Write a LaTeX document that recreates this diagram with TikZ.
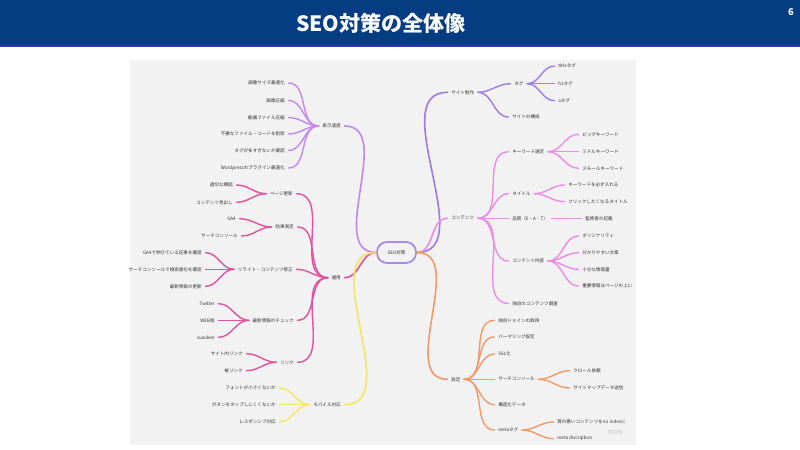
\documentclass[tikz,border=0pt]{standalone}
\usepackage{fontspec}
\setmainfont{Noto Sans CJK JP}
\usetikzlibrary{positioning}

\definecolor{bandblue}{HTML}{053C82}
\definecolor{bandline}{HTML}{2A34B8}
\definecolor{canvas}{HTML}{F2F2F2}
\definecolor{sitecol}{HTML}{A07CE2}
\definecolor{speedcol}{HTML}{C687F0}
\definecolor{contcol}{HTML}{EA8CE8}
\definecolor{opcol}{HTML}{E0529E}
\definecolor{mobcol}{HTML}{F6E462}
\definecolor{setcol}{HTML}{F19A6C}
\definecolor{rootcol}{HTML}{A68AE5}
\definecolor{txt}{HTML}{333333}

\begin{document}
\begin{tikzpicture}[x=0.3mm,y=-0.3mm,
	lbl/.style={inner xsep=3pt,inner ysep=1pt,text=txt,font=\fontsize{3.9}{4.5}\selectfont},
	lft/.style={lbl,anchor=east},
	rgt/.style={lbl,anchor=west},
	branch/.style={line width=1.2pt,line cap=round},
	toleft/.style={branch,out=180,in=0},
	toright/.style={branch,out=0,in=180}]
	\useasboundingbox (0,0) rectangle (800,450);

	% header
	\fill[bandblue] (0,0) rectangle (800,45);
	\fill[bandline] (0,45) rectangle (800,47);
	\node[text=white,font=\fontsize{18}{20}\selectfont\bfseries] (title)
		at (381,23) {SEO対策の全体像};
	\node[text=white,font=\fontsize{8}{9}\selectfont\bfseries] (page)
		at (791,12) {6};

	% board
	\fill[canvas] (130,60) rectangle (636,445);
	\node[text=gray!45,font=\fontsize{6}{7}\selectfont] (miro) at (615,432) {miro};

	\node[draw=rootcol,line width=1.5pt,rounded corners=3mm,minimum width=11.7mm,
		minimum height=6.3mm,inner sep=0pt,text=txt,font=\fontsize{3.9}{4.5}\selectfont] (root)
		at (396.5,252.5) {SEO対策};

	% left: display speed
	\node[lft] (speed) at (344.5,126) {表示速度};
	\node[lft] (sp1) at (288.5,83) {画像サイズ最適化};
	\node[lft] (sp2) at (288.5,100.5) {画像圧縮};
	\node[lft] (sp3) at (288.5,117.5) {動画ファイル圧縮};
	\node[lft] (sp4) at (288.5,134) {不要なファイル・コードを削除};
	\node[lft] (sp5) at (288.5,150.5) {タグが多すぎないか確認};
	\node[lft] (sp6) at (288.5,168) {Wordpressのプラグイン最適化};

	% left: operation
	\node[lft] (ops) at (344.5,277.7) {運用};
	\node[lft] (upd) at (296.5,193.7) {ページ更新};
	\node[lft] (upd1) at (236.5,185) {適切な構図};
	\node[lft] (upd2) at (236.5,202.3) {コンテンツ見出し};
	\node[lft] (meas) at (297.5,227) {効果測定};
	\node[lft] (meas1) at (239.5,218.7) {GA4};
	\node[lft] (meas2) at (241.5,236) {サーチコンソール};
	\node[lft] (rew) at (296.5,269.3) {リライト・コンテンツ修正};
	\node[lft] (rew1) at (205.5,252.7) {GA4で伸びている記事を確認};
	\node[lft] (rew2) at (205.5,269.3) {サーチコンソールで検索語句を確認};
	\node[lft] (rew3) at (205.5,286.3) {最新情報の更新};
	\node[lft] (news) at (297.5,320.3) {最新情報のチェック};
	\node[lft] (news1) at (218.5,303.7) {Twitter};
	\node[lft] (news2) at (218.5,320.3) {WEB版};
	\node[lft] (news3) at (218.5,337.3) {suzuken};
	\node[lft] (link) at (297.5,362.3) {リンク};
	\node[lft] (link1) at (246.5,353.7) {サイト内リンク};
	\node[lft] (link2) at (246.5,370.7) {被リンク};

	% left: mobile
	\node[lft] (mob) at (344.5,404.7) {モバイル対応};
	\node[lft] (mob1) at (279.5,388) {フォントが小さくないか};
	\node[lft] (mob2) at (279.5,404.7) {ボタンをタップしにくくないか};
	\node[lft] (mob3) at (279.5,421.7) {レスポンシブ対応};

	% right: site building
	\node[rgt] (site) at (447.5,92.3) {サイト制作};
	\node[rgt] (tag) at (510.5,83.7) {タグ};
	\node[rgt] (tag1) at (554.5,66) {titleタグ};
	\node[rgt] (tag2) at (554.5,83.7) {h1タグ};
	\node[rgt] (tag3) at (554.5,100.7) {aタグ};
	\node[rgt] (struct) at (508.5,117) {サイトの構成};

	% right: contents
	\node[rgt] (cont) at (447.5,218.3) {コンテンツ};
	\node[rgt] (kw) at (508.5,151.7) {キーワード選定};
	\node[rgt] (kw1) at (578.5,134.3) {ビッグキーワード};
	\node[rgt] (kw2) at (578.5,151.7) {ミドルキーワード};
	\node[rgt] (kw3) at (578.5,168.3) {スモールキーワード};
	\node[rgt] (ttl) at (508.5,193.7) {タイトル};
	\node[rgt] (ttl1) at (564.5,185) {キーワードを必ず入れる};
	\node[rgt] (ttl2) at (564.5,201.7) {クリックしたくなるタイトル};
	\node[rgt] (eat) at (508.5,218.3) {品質（E・A・T）};
	\node[rgt] (eat1) at (581.5,218.3) {監修者の記載};
	\node[rgt] (body) at (508.5,261) {コンテンツ内容};
	\node[rgt] (body1) at (578.5,236) {オリジナリティ};
	\node[rgt] (body2) at (578.5,252.7) {分かりやすい文章};
	\node[rgt] (body3) at (578.5,269.3) {十分な情報量};
	\node[rgt] (body4) at (578.5,286) {重要情報はページの上に};
	\node[rgt] (orig) at (508.5,303.3) {独自のコンテンツ調査};

	% right: settings
	\node[rgt] (set) at (447.5,379.3) {設定};
	\node[rgt] (dom) at (494.5,320.3) {独自ドメインの取得};
	\node[rgt] (perm) at (494.5,337) {パーマリンク設定};
	\node[rgt] (ssl) at (494.5,354) {SSL化};
	\node[rgt] (sc) at (494.5,379.3) {サーチコンソール};
	\node[rgt] (sc1) at (569.5,370.7) {クロール依頼};
	\node[rgt] (sc2) at (569.5,388) {サイトマップデータ送信};
	\node[rgt] (data) at (494.5,404.7) {構造化データ};
	\node[rgt] (meta) at (494.5,430) {metaタグ};
	\node[rgt] (meta1) at (553.5,422) {質の悪いコンテンツをno indexに};
	\node[rgt] (meta2) at (553.5,438.7) {meta discription};

	% connectors
	\path[draw=speedcol] (root.west) edge[toleft,line width=1.4pt] (speed.east);
	\path[draw=speedcol] (speed.west) edge[toleft] (sp1.east) edge[toleft] (sp2.east)
		edge[toleft] (sp3.east) edge[toleft] (sp4.east) edge[toleft] (sp5.east) edge[toleft] (sp6.east);

	\path[draw=opcol] (root.west) edge[toleft,line width=1.4pt] (ops.east);
	\path[draw=opcol] (ops.west) edge[toleft] (upd.east) edge[toleft] (meas.east)
		edge[toleft] (rew.east) edge[toleft] (news.east) edge[toleft] (link.east);
	\path[draw=opcol] (upd.west) edge[toleft] (upd1.east) edge[toleft] (upd2.east);
	\path[draw=opcol] (meas.west) edge[toleft] (meas1.east) edge[toleft] (meas2.east);
	\path[draw=opcol] (rew.west) edge[toleft] (rew1.east) edge[toleft] (rew2.east) edge[toleft] (rew3.east);
	\path[draw=opcol] (news.west) edge[toleft] (news1.east) edge[toleft] (news2.east) edge[toleft] (news3.east);
	\path[draw=opcol] (link.west) edge[toleft] (link1.east) edge[toleft] (link2.east);

	\path[draw=mobcol] (root.west) edge[toleft,line width=1.4pt] (mob.east);
	\path[draw=mobcol] (mob.west) edge[toleft] (mob1.east) edge[toleft] (mob2.east) edge[toleft] (mob3.east);

	\path[draw=sitecol] (root.east) edge[toright,line width=1.4pt] (site.west);
	\path[draw=sitecol] (site.east) edge[toright] (tag.west) edge[toright] (struct.west);
	\path[draw=sitecol] (tag.east) edge[toright] (tag1.west) edge[toright] (tag2.west) edge[toright] (tag3.west);

	\path[draw=contcol] (root.east) edge[toright,line width=1.4pt] (cont.west);
	\path[draw=contcol] (cont.east) edge[toright] (kw.west) edge[toright] (ttl.west)
		edge[toright] (eat.west) edge[toright] (body.west) edge[toright] (orig.west);
	\path[draw=contcol] (kw.east) edge[toright] (kw1.west) edge[toright] (kw2.west) edge[toright] (kw3.west);
	\path[draw=contcol] (ttl.east) edge[toright] (ttl1.west) edge[toright] (ttl2.west);
	\path[draw=contcol] (eat.east) edge[toright] (eat1.west);
	\path[draw=contcol] (body.east) edge[toright] (body1.west) edge[toright] (body2.west)
		edge[toright] (body3.west) edge[toright] (body4.west);

	\path[draw=setcol] (root.east) edge[toright,line width=1.4pt] (set.west);
	\path[draw=setcol] (set.east) edge[toright] (dom.west) edge[toright] (perm.west)
		edge[toright] (ssl.west) edge[toright] (sc.west) edge[toright] (data.west) edge[toright] (meta.west);
	\path[draw=setcol] (sc.east) edge[toright] (sc1.west) edge[toright] (sc2.west);
	\path[draw=setcol] (meta.east) edge[toright] (meta1.west) edge[toright] (meta2.west);
\end{tikzpicture}
\end{document}
